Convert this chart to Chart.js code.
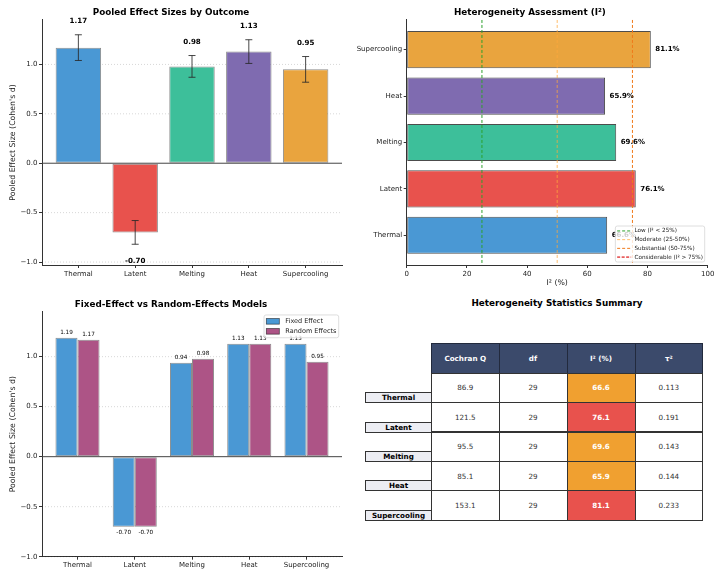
<!DOCTYPE html>
<html>
<head>
<meta charset="utf-8">
<title>Meta-analysis summary</title>
<script src="https://cdn.jsdelivr.net/npm/chart.js@4.4.1/dist/chart.umd.min.js"></script>
<style>
  html, body { margin: 0; padding: 0; background: #fff; }
  #fig { position: relative; width: 720px; height: 574px; overflow: hidden; font-family: "DejaVu Sans", sans-serif; }
  #fig canvas { position: absolute; }
  .tbl-title { position: absolute; left: 360px; width: 394px; top: 298px; text-align: center; font-weight: bold; font-size: 8.8px; color: #000; }
  .cell { position: absolute; box-sizing: border-box; display: flex; align-items: center; justify-content: center;
          font-size: 7.2px; color: #333; border: 1px solid #333; background: #fff; }
  .cell.head { background: #3b4a6b; color: #fff; font-weight: bold; border-color: #222a3d; }
  .cell.hot { color: #fff; font-weight: bold; }
  .cell.rowlab { background: #ecedf3; color: #000; font-weight: bold; }
</style>
</head>
<body>
<div id="fig">
  <canvas id="effectChart" width="352" height="290" style="left:0;top:0"></canvas>
  <canvas id="hetChart" width="368" height="290" style="left:352px;top:0"></canvas>
  <canvas id="modelChart" width="352" height="284" style="left:0;top:290px"></canvas>
  <div class="tbl-title">Heterogeneity Statistics Summary</div>
  <div id="statsTable"></div>
</div>
<script>
(function(){
  // ---- data ----
  const outcomes = ['Thermal', 'Latent', 'Melting', 'Heat', 'Supercooling'];
  const pooledEffects = [1.17, -0.70, 0.98, 1.13, 0.95];
  const pooledErrors = [0.13, 0.12, 0.11, 0.12, 0.13];
  const iSquared = [66.6, 76.1, 69.6, 65.9, 81.1];
  const fixedEffects = [1.19, -0.70, 0.94, 1.13, 1.13];
  const randomEffects = [1.17, -0.70, 0.98, 1.13, 0.95];
  const cochranQ = [86.9, 121.5, 95.5, 85.1, 153.1];
  const degreesFreedom = [29, 29, 29, 29, 29];
  const tauSquared = [0.113, 0.191, 0.143, 0.144, 0.233];
  const tableHeaders = ['Cochran Q', 'df', 'I\u00b2 (%)', '\u03c4\u00b2'];
  const effectTicks = [-1.0, -0.5, 0.0, 0.5, 1.0];
  const iSquaredTicks = [0, 20, 40, 60, 80, 100];
  const thresholdValues = [25, 50, 75];
  const thresholdLabels = ['Low (I\u00b2 < 25%)', 'Moderate (25-50%)', 'Substantial (50-75%)', 'Considerable (I\u00b2 > 75%)'];

  // ---- styles ----
  const outcomeColors = ['#4a98d4', '#e8524d', '#3dbf9a', '#7f6bb0', '#e9a43e'];
  const thresholdColors = ['#2ca02c', 'rgba(255,170,60,0.75)', '#f07a1a', '#e86060'];
  const fixedColor = '#4a98d4';
  const randomColor = '#ad5486';
  const FONT = '"DejaVu Sans", sans-serif';
  const INK = '#222';

  Chart.defaults.font.family = FONT;
  Chart.defaults.color = INK;

  const fmtTick = v => (v < 0 ? '\u2212' : '') + Math.abs(v).toFixed(1);

  // dotted grid below bars, zero / threshold lines above them
  const refLines = {
    id: 'refLines',
    beforeDatasetsDraw(chart, args, opts) {
      const {ctx, chartArea: a} = chart;
      const ys = chart.scales.y;
      ctx.save();
      ctx.strokeStyle = 'rgba(0,0,0,0.2)';
      ctx.lineWidth = 0.8;
      ctx.setLineDash([1, 2]);
      (opts.gridY || []).forEach(v => {
        const y = ys.getPixelForValue(v);
        ctx.beginPath(); ctx.moveTo(a.left, y); ctx.lineTo(a.right, y); ctx.stroke();
      });
      ctx.restore();
    },
    afterDatasetsDraw(chart, args, opts) {
      const {ctx, chartArea: a} = chart;
      ctx.save();
      if (opts.zero) {
        const y = chart.scales.y.getPixelForValue(0);
        ctx.strokeStyle = '#444';
        ctx.lineWidth = 1;
        ctx.beginPath(); ctx.moveTo(a.left, y); ctx.lineTo(a.right, y); ctx.stroke();
      }
      (opts.vLines || []).forEach(l => {
        const x = chart.scales.x.getPixelForValue(l.value);
        ctx.strokeStyle = l.color;
        ctx.lineWidth = 1;
        ctx.setLineDash([3, 2]);
        ctx.beginPath(); ctx.moveTo(x, a.top); ctx.lineTo(x, a.bottom); ctx.stroke();
      });
      ctx.restore();
    }
  };

  const errorBars = {
    id: 'errorBars',
    afterDatasetsDraw(chart, args, opts) {
      if (!opts.errors) return;
      const {ctx} = chart;
      const ys = chart.scales.y;
      const meta = chart.getDatasetMeta(0);
      ctx.save();
      ctx.strokeStyle = 'rgba(40,40,40,0.85)';
      ctx.lineWidth = 1;
      meta.data.forEach((bar, i) => {
        const v = chart.data.datasets[0].data[i].y;
        const e = opts.errors[i];
        const y1 = ys.getPixelForValue(v + e), y2 = ys.getPixelForValue(v - e);
        ctx.beginPath();
        ctx.moveTo(bar.x, y1); ctx.lineTo(bar.x, y2);
        ctx.moveTo(bar.x - 3.5, y1); ctx.lineTo(bar.x + 3.5, y1);
        ctx.moveTo(bar.x - 3.5, y2); ctx.lineTo(bar.x + 3.5, y2);
        ctx.stroke();
      });
      ctx.restore();
    }
  };

  const valueLabels = {
    id: 'valueLabels',
    afterDatasetsDraw(chart, args, opts) {
      if (!opts.mode) return;
      const {ctx} = chart;
      ctx.save();
      ctx.fillStyle = '#000';
      ctx.font = (opts.bold ? 'bold ' : '') + opts.size + 'px ' + FONT;
      chart.data.datasets.forEach((ds, di) => {
        chart.getDatasetMeta(di).data.forEach((bar, i) => {
          const pt = ds.data[i];
          if (opts.mode === 'horizontal') {
            ctx.textAlign = 'left';
            ctx.textBaseline = 'middle';
            ctx.fillText(pt.x.toFixed(1) + '%', chart.scales.x.getPixelForValue(pt.x + opts.offset), bar.y);
            return;
          }
          const ys = chart.scales.y;
          const e = opts.errors ? opts.errors[i] : 0;
          ctx.textAlign = 'center';
          if (pt.y >= 0) {
            ctx.textBaseline = 'bottom';
            ctx.fillText(pt.y.toFixed(2), bar.x, ys.getPixelForValue(pt.y + e + opts.up));
          } else {
            ctx.textBaseline = 'top';
            ctx.fillText(pt.y.toFixed(2), bar.x, ys.getPixelForValue(pt.y - e - opts.down));
          }
        });
      });
      ctx.restore();
    }
  };

  // legend drawn inside the plot area
  const insetLegend = {
    id: 'insetLegend',
    afterDraw(chart, args, o) {
      if (!o.items) return;
      const {ctx, chartArea: a} = chart;
      ctx.save();
      ctx.font = o.size + 'px ' + FONT;
      const textW = Math.max(...o.items.map(it => ctx.measureText(it.label).width));
      const w = o.padX * 2 + o.handleW + o.gap + textW;
      const h = o.padY * 2 + o.rowH * o.items.length;
      const x0 = a.right - o.inset - w;
      const y0 = o.corner === 'bottom' ? a.bottom - o.inset - h : a.top + o.inset;
      ctx.fillStyle = 'rgba(255,255,255,0.8)';
      ctx.strokeStyle = '#d5d5d5';
      ctx.lineWidth = 0.8;
      ctx.beginPath();
      ctx.roundRect(x0, y0, w, h, 2);
      ctx.fill(); ctx.stroke();
      o.items.forEach((it, i) => {
        const cy = y0 + o.padY + o.rowH * (i + 0.5);
        const hx = x0 + o.padX;
        if (it.line) {
          ctx.strokeStyle = it.color;
          ctx.lineWidth = it.width || 1;
          ctx.setLineDash(it.width > 1 ? [3, 1.5] : [3, 2]);
          ctx.beginPath(); ctx.moveTo(hx, cy); ctx.lineTo(hx + o.handleW, cy); ctx.stroke();
          ctx.setLineDash([]);
        } else {
          ctx.fillStyle = it.color;
          ctx.fillRect(hx, cy - 2.8, o.handleW, 5.6);
          ctx.strokeStyle = 'rgba(0,0,0,0.6)';
          ctx.lineWidth = 0.8;
          ctx.strokeRect(hx, cy - 2.8, o.handleW, 5.6);
        }
        ctx.fillStyle = '#222';
        ctx.textAlign = 'left';
        ctx.textBaseline = 'middle';
        ctx.fillText(it.label, hx + o.handleW + o.gap, cy);
      });
      ctx.restore();
    }
  };

  const tickFont = {size: 7, family: FONT};
  const titleOpts = (text, top, bottom) => ({
    display: true, text, color: '#000',
    font: {size: 8.8, weight: 'bold', family: FONT},
    padding: {top, bottom}
  });
  const axisBase = {
    offset: false,
    grid: {drawOnChartArea: false, offset: false, tickLength: 3, tickColor: '#333', lineWidth: 1},
    border: {color: '#333', width: 1}
  };
  const categoryAxis = (height, extra) => Object.assign({}, axisBase, {
    type: 'linear', min: -0.64, max: 4.64,
    afterBuildTicks: s => { s.ticks = outcomes.map((o, i) => ({value: i})); },
    ticks: {font: tickFont, padding: 1.5, autoSkip: false, maxRotation: 0, callback: v => outcomes[v]},
    afterFit: s => { if (s.isHorizontal()) s.height = height; else s.width = height; }
  }, extra || {});
  const effectAxis = (min, width) => Object.assign({}, axisBase, {
    min, max: 1.45,
    afterBuildTicks: s => { s.ticks = effectTicks.map(v => ({value: v})); },
    ticks: {font: tickFont, padding: 1.5, callback: fmtTick},
    title: {display: true, text: "Pooled Effect Size (Cohen's d)", font: {size: 7.8, family: FONT}, color: INK, padding: {top: 8.3, bottom: 0}},
    afterFit: s => { s.width = width; }
  });

  // ---- top left: pooled effects ----
  new Chart(document.getElementById('effectChart'), {
    type: 'bar',
    data: {
      datasets: [{
        data: outcomes.map((o, i) => ({x: i, y: pooledEffects[i]})),
        backgroundColor: outcomeColors,
        borderColor: 'rgba(0,0,0,0.45)',
        borderWidth: 1,
        borderSkipped: false,
        barPercentage: 0.8,
        categoryPercentage: 1
      }]
    },
    options: {
      responsive: false, animation: false,
      layout: {padding: {left: 0, right: 10, top: 0, bottom: 0}},
      scales: { x: categoryAxis(25), y: effectAxis(-1.03, 42) },
      plugins: {
        legend: {display: false}, tooltip: {enabled: false},
        title: titleOpts('Pooled Effect Sizes by Outcome', 7.5, 1.9),
        refLines: {gridY: effectTicks.filter(v => v !== 0), zero: true},
        errorBars: {errors: pooledErrors},
        valueLabels: {mode: 'vertical', bold: true, size: 7.1, errors: pooledErrors, up: 0.1, down: 0.14}
      }
    },
    plugins: [refLines, errorBars, valueLabels]
  });

  // ---- top right: I-squared ----
  new Chart(document.getElementById('hetChart'), {
    type: 'bar',
    data: {
      datasets: [{
        data: outcomes.map((o, i) => ({x: iSquared[i], y: i})),
        backgroundColor: outcomeColors,
        borderColor: 'rgba(0,0,0,0.7)',
        borderWidth: 1,
        borderSkipped: false,
        barPercentage: 0.8,
        categoryPercentage: 1
      }]
    },
    options: {
      indexAxis: 'y',
      responsive: false, animation: false,
      layout: {padding: {left: 0, right: 12.3, top: 0, bottom: 0}},
      scales: {
        y: categoryAxis(54.7),
        x: Object.assign({}, axisBase, {
          type: 'linear', min: 0, max: 100,
          afterBuildTicks: s => { s.ticks = iSquaredTicks.map(v => ({value: v})); },
          ticks: {font: tickFont, padding: 1.5},
          title: {display: true, text: 'I\u00b2 (%)', font: {size: 7.8, family: FONT}, color: INK, padding: {top: 0, bottom: 2.6}},
          afterFit: s => { s.height = 25; }
        })
      },
      plugins: {
        legend: {display: false}, tooltip: {enabled: false},
        title: titleOpts('Heterogeneity Assessment (I\u00b2)', 7.5, 1.9),
        refLines: {vLines: thresholdValues.map((v, i) => ({value: v, color: thresholdColors[i]}))},
        valueLabels: {mode: 'horizontal', bold: true, size: 7, offset: 1.5},
        insetLegend: {
          corner: 'bottom', inset: 3, size: 5.7, rowH: 8.7, padX: 1.8, padY: 0.6, handleW: 14, gap: 3.3,
          items: thresholdLabels.map((t, i) => ({label: t, color: thresholdColors[i], line: true, width: i === 3 ? 1.8 : 1}))
        }
      }
    },
    plugins: [refLines, valueLabels, insetLegend]
  });

  // ---- bottom left: fixed vs random ----
  new Chart(document.getElementById('modelChart'), {
    type: 'bar',
    data: {
      datasets: [
        {label: 'Fixed Effect', data: outcomes.map((o, i) => ({x: i, y: fixedEffects[i]})), backgroundColor: fixedColor},
        {label: 'Random Effects', data: outcomes.map((o, i) => ({x: i, y: randomEffects[i]})), backgroundColor: randomColor}
      ].map(d => Object.assign(d, {borderColor: 'rgba(0,0,0,0.45)', borderWidth: 1, borderSkipped: false, barPercentage: 1, categoryPercentage: 0.77}))
    },
    options: {
      responsive: false, animation: false,
      layout: {padding: {left: 0, right: 10, top: 0, bottom: 0}},
      scales: { x: categoryAxis(17.3, {min: -0.62, max: 4.62}), y: effectAxis(-1.0, 42) },
      plugins: {
        legend: {display: false}, tooltip: {enabled: false},
        title: titleOpts('Fixed-Effect vs Random-Effects Models', 9.7, 1.4),
        refLines: {gridY: effectTicks.filter(v => v !== 0), zero: true},
        valueLabels: {mode: 'vertical', bold: false, size: 5.7, up: 0.02, down: 0.03},
        insetLegend: {
          corner: 'top', inset: 3.3, size: 6.5, rowH: 10, padX: 2.3, padY: 1.4, handleW: 13, gap: 6,
          items: [{label: 'Fixed Effect', color: fixedColor}, {label: 'Random Effects', color: randomColor}]
        }
      }
    },
    plugins: [refLines, valueLabels, insetLegend]
  });

  // ---- bottom right: statistics table ----
  const table = document.getElementById('statsTable');
  const colX = [431, 498.5, 566.5, 634.5, 702.3];
  const headTop = 343.3, headH = 29.4, rowH = 29.4;
  function addCell(cls, text, left, top, width, height, bg) {
    const c = document.createElement('div');
    c.className = 'cell ' + cls;
    c.textContent = text;
    c.style.left = left + 'px';
    c.style.top = top + 'px';
    c.style.width = (width + 1) + 'px';
    c.style.height = (height + 1) + 'px';
    if (bg) c.style.background = bg;
    table.appendChild(c);
  }
  tableHeaders.forEach((h, j) => addCell('head', h, colX[j], headTop, colX[j + 1] - colX[j], headH));
  outcomes.forEach((name, i) => {
    const top = headTop + headH + i * rowH;
    const row = [cochranQ[i].toFixed(1), String(degreesFreedom[i]), iSquared[i].toFixed(1), tauSquared[i].toFixed(3)];
    row.forEach((txt, j) => {
      const hot = j === 2;
      const bg = hot ? (iSquared[i] > 75 ? '#e8524d' : '#f0a030') : null;
      addCell(hot ? 'hot' : '', txt, colX[j], top, colX[j + 1] - colX[j], rowH, bg);
    });
    addCell('rowlab', name, 365, top + rowH - 10, colX[0] - 365, 10);
  });
})();
</script>
</body>
</html>
